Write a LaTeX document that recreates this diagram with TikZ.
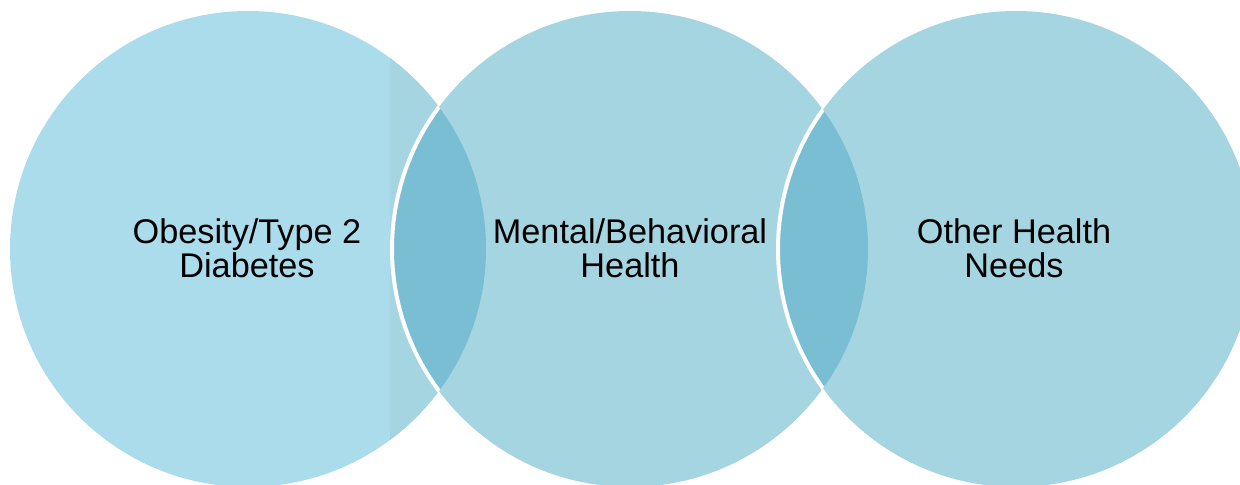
\documentclass[tikz,border=0pt]{standalone}
\usepackage{fontspec}
\setmainfont{Liberation Sans}
\usepackage{tikz}

\definecolor{circlight}{RGB}{171,220,236}
\definecolor{circbase}{RGB}{166,213,226}
\definecolor{circlens}{RGB}{121,190,210}

\tikzset{
  circlabel/.style={anchor=center, inner sep=0.75pt, align=center, text=black,
    font=\fontsize{25.7}{25.5}\selectfont},
  cut/.style={white, line width=3pt}
}

\begin{document}
\begin{tikzpicture}[x=0.75pt,y=0.75pt,yscale=-1,xscale=1]
%set diagram left start at 0, and has size of 1240 x 485
\useasboundingbox (0,0) rectangle (1240,485);
\clip (0,0) rectangle (1240,485);

\coordinate (obesityc) at (248,249);
\coordinate (mentalc) at (630,249);
\coordinate (otherc) at (1016,249);

%Circle [left]
\fill [circlight] (obesityc) circle [radius=178.5pt];
\begin{scope}
\clip (390,0) rectangle (500,485);
\fill [circbase] (obesityc) circle [radius=178.5pt];
\end{scope}
%Circle [middle]
\fill [circbase] (mentalc) circle [radius=178.5pt];
%Circle [right]
\fill [circbase] (otherc) circle [radius=178.5pt];

%Lens [left-middle]
\begin{scope}
\clip (obesityc) circle [radius=178.5pt];
\fill [circlens] (mentalc) circle [radius=178.5pt];
\draw [cut] (mentalc) circle [radius=178.5pt];
\end{scope}
%Lens [middle-right]
\begin{scope}
\clip (mentalc) circle [radius=178.5pt];
\fill [circlens] (otherc) circle [radius=178.5pt];
\draw [cut] (otherc) circle [radius=178.5pt];
\end{scope}

% Text Node
\node [circlabel] (obesity) at (247,248) {Obesity/Type 2\\Diabetes};
% Text Node
\node [circlabel] (mental) at (630,248) {Mental/Behavioral\\Health};
% Text Node
\node [circlabel] (other) at (1014,248) {Other Health\\Needs};

\end{tikzpicture}
\end{document}
